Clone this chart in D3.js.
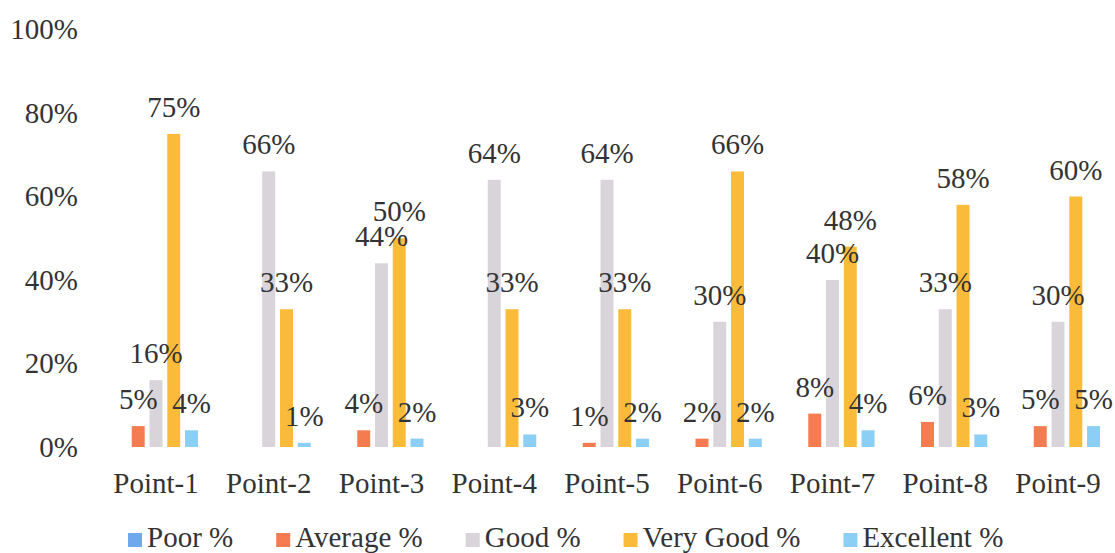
<!DOCTYPE html>
<html>
<head>
<meta charset="utf-8">
<script src="https://cdn.jsdelivr.net/npm/d3@7"></script>
<style>
  body { margin: 0; background: #fff; }
  svg text { font-family: "Liberation Serif", "Tinos", "Times New Roman", Times, "DejaVu Serif", serif; fill: #333; }
</style>
</head>
<body>
<script>
// chart data
var categories = ["Point-1","Point-2","Point-3","Point-4","Point-5","Point-6","Point-7","Point-8","Point-9"];
var seriesNames = ["Poor %","Average %","Good %","Very Good %","Excellent %"];
var poor      = [0, 0, 0, 0, 0, 0, 0, 0, 0];
var average   = [5, 0, 4, 0, 1, 2, 8, 6, 5];
var good      = [16, 66, 44, 64, 64, 30, 40, 33, 30];
var veryGood  = [75, 33, 50, 33, 33, 66, 48, 58, 60];
var excellent = [4, 1, 2, 3, 2, 2, 4, 3, 5];
var yTicks = [0, 0.2, 0.4, 0.6, 0.8, 1];

var seriesValues = [poor, average, good, veryGood, excellent];
var colors = ["#6fa8ec", "#f47c50", "#d9d3da", "#fbbb3a", "#8ccff5"];

var width = 1115, height = 553;
var fontSize = 29;
var serif = '"Liberation Serif", "Tinos", "Times New Roman", Times, "DejaVu Serif", serif';

var svg = d3.select('body').append('svg')
    .attr('width', width)
    .attr('height', height)
    .attr('font-family', serif);

var x0 = d3.scaleBand()
    .domain(categories)
    .range([99.6, 1114.4])
    .paddingInner(0.255)
    .paddingOuter(0.1275);

var x1 = d3.scaleBand()
    .domain(seriesNames)
    .range([0, x0.bandwidth()])
    .paddingInner(0.27);

var y = d3.scaleLinear()
    .domain([0, 1])
    .range([447, 29.5]);

var color = d3.scaleOrdinal().domain(seriesNames).range(colors);

// y axis (labels only)
var yAxis = d3.axisLeft(y)
    .tickValues(yTicks)
    .tickFormat(d3.format(".0%"))
    .tickSize(0)
    .tickPadding(0);

svg.append('g')
    .attr('transform', 'translate(78,0)')
    .call(yAxis)
    .attr('font-family', serif)
    .attr('font-size', fontSize)
    .call(function(g){ g.select('.domain').remove(); })
    .selectAll('text')
    .style('fill', '#333');

// x axis (labels only)
var xAxis = d3.axisBottom(x0).tickSize(0).tickPadding(25);
svg.append('g')
    .attr('transform', 'translate(0,' + y(0) + ')')
    .call(xAxis)
    .attr('font-family', serif)
    .attr('font-size', fontSize)
    .call(function(g){ g.select('.domain').remove(); })
    .selectAll('text')
    .style('fill', '#333');

// build rows for bars
var rows = [];
categories.forEach(function(c, i){
    seriesNames.forEach(function(s, j){
        rows.push({cat: c, series: s, value: seriesValues[j][i] / 100});
    });
});

var bars = svg.append('g');
bars.selectAll('rect')
    .data(rows)
    .enter().append('rect')
    .attr('x', function(d){ return x0(d.cat) + x1(d.series); })
    .attr('y', function(d){ return y(d.value); })
    .attr('width', x1.bandwidth())
    .attr('height', function(d){ return y(0) - y(d.value); })
    .attr('fill', function(d){ return color(d.series); });

// data labels, only for non-zero values
bars.selectAll('text')
    .data(rows.filter(function(d){ return d.value > 0; }))
    .enter().append('text')
    .attr('x', function(d){ return x0(d.cat) + x1(d.series) + x1.bandwidth() / 2; })
    .attr('y', function(d){ return y(d.value) - 17; })
    .attr('text-anchor', 'middle')
    .style('font-size', fontSize + 'px')
    .text(function(d){ return d3.format(".0%")(d.value); });

// legend
var legend = svg.append('g').attr('transform', 'translate(128,0)');
var lx = 0;
seriesNames.forEach(function(s){
    var item = legend.append('g').attr('transform', 'translate(' + lx + ',0)');
    item.append('rect')
        .attr('x', 0).attr('y', 533)
        .attr('width', 14).attr('height', 14)
        .attr('fill', color(s));
    var t = item.append('text')
        .attr('x', 19).attr('y', 547)
        .style('font-size', fontSize + 'px')
        .text(s);
    lx += 19 + t.node().getComputedTextLength() + 43;
});
</script>
</body>
</html>
